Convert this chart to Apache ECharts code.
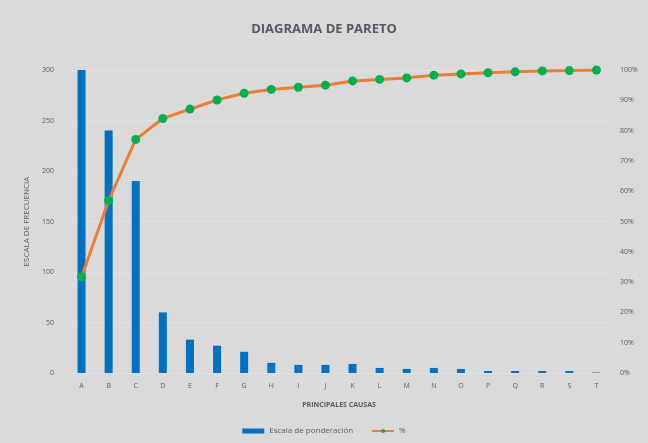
<!DOCTYPE html>
<html>
<head>
<meta charset="utf-8">
<script src="https://cdn.jsdelivr.net/npm/echarts@6/dist/echarts.min.js"></script>
<style>
  html, body { margin: 0; padding: 0; background: #dadada; }
  #chart { width: 648px; height: 443px; }
</style>
</head>
<body>
<div id="chart"></div>
<script>
var causas = ['A', 'B', 'C', 'D', 'E', 'F', 'G', 'H', 'I', 'J', 'K', 'L', 'M', 'N', 'O', 'P', 'Q', 'R', 'S', 'T'];
var frecuencia = [300, 240, 190, 60, 33, 27, 21, 10, 8, 8, 9, 5, 4, 5, 4, 2, 2, 2, 2, 0.5]; // Escala de ponderación
var porcentaje = [31.7, 56.9, 77.1, 84.0, 87.1, 90.1, 92.3, 93.6, 94.3, 95.0, 96.4, 96.9, 97.4, 98.3, 98.7, 99.1, 99.4, 99.7, 99.8, 100]; // % acumulado

var textoGris = '#595959';

var chart = echarts.init(document.getElementById('chart'));
var option = {
  backgroundColor: '#dadada',
  textStyle: { fontFamily: 'Open Sans' },
  title: {
    text: 'DIAGRAMA DE PARETO',
    left: 'center',
    top: 18,
    textStyle: { color: '#4e5966', fontSize: 13, fontWeight: 'bold', fontFamily: 'Open Sans' }
  },
  legend: {
    bottom: 3,
    left: 'center',
    itemGap: 18,
    itemWidth: 22,
    itemHeight: 5,
    textStyle: { color: textoGris, fontSize: 8 },
    data: [
      { name: 'Escala de ponderación', icon: 'rect' },
      { name: '%' }
    ]
  },
  grid: { left: 68, right: 38, top: 70, bottom: 70 },
  xAxis: {
    type: 'category',
    data: causas,
    name: 'PRINCIPALES CAUSAS',
    nameLocation: 'middle',
    nameGap: 28,
    nameTextStyle: { color: textoGris, fontSize: 7, fontWeight: 'bold' },
    axisLine: { show: false },
    axisTick: { show: false },
    axisLabel: { color: textoGris, fontSize: 7, margin: 9 }
  },
  yAxis: [{
    type: 'value',
    min: 0,
    max: 300,
    interval: 50,
    name: 'ESCALA DE FRECUENCIA',
    nameLocation: 'middle',
    nameGap: 31,
    nameTextStyle: { color: textoGris, fontSize: 8 },
    axisLabel: { color: textoGris, fontSize: 7, margin: 14 },
    splitLine: { lineStyle: { color: '#e0e0e0', width: 1 } }
  }, {
    type: 'value',
    min: 0,
    max: 100,
    interval: 10,
    axisLabel: { color: textoGris, fontSize: 7, margin: 10, formatter: '{value}%' },
    splitLine: { show: false }
  }],
  series: [{
    name: 'Escala de ponderación',
    type: 'bar',
    data: frecuencia,
    barWidth: 8,
    itemStyle: { color: '#0070c0' }
  }, {
    name: '%',
    type: 'line',
    yAxisIndex: 1,
    data: porcentaje,
    symbol: 'circle',
    symbolSize: 9,
    lineStyle: { color: '#ed7d31', width: 3 },
    itemStyle: { color: '#00b050' }
  }]
};
chart.setOption(option);
</script>
</body>
</html>
